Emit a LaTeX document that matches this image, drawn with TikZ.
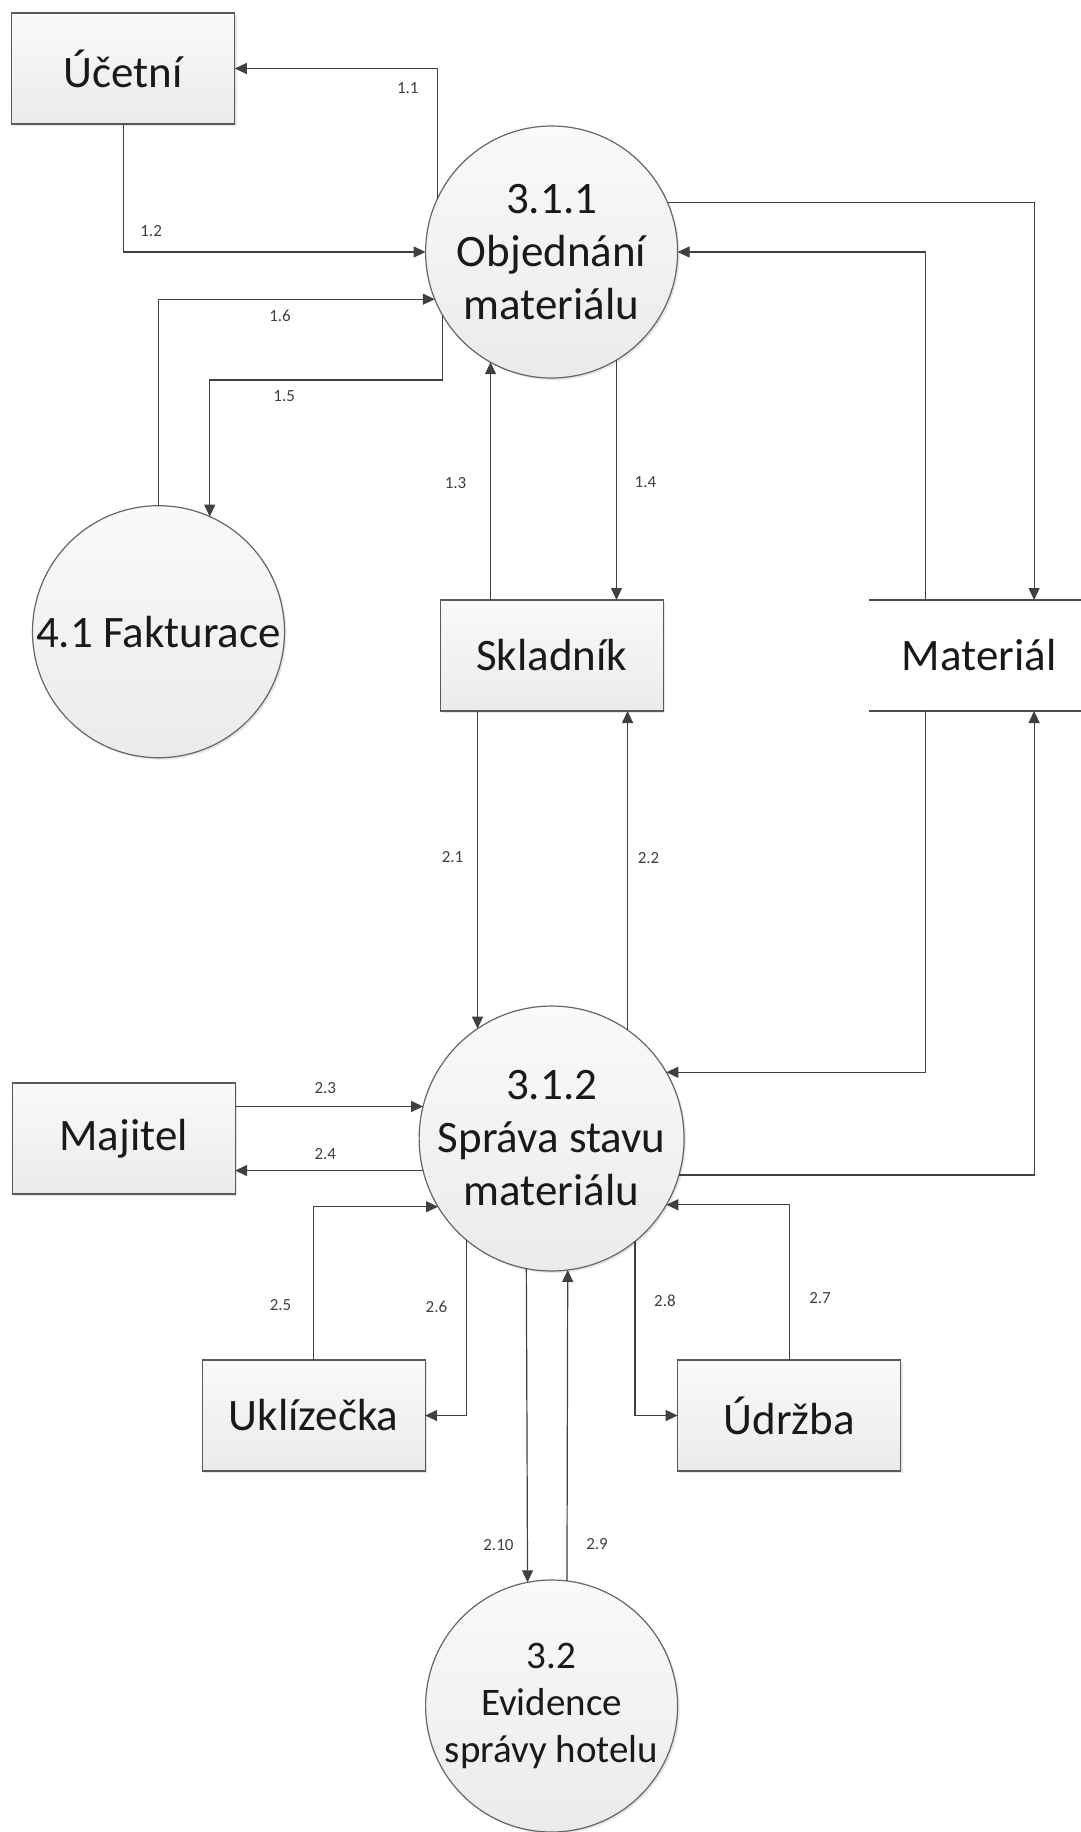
\documentclass[tikz,border=0pt]{standalone}
\usepackage{fontspec}
\setmainfont{Carlito}
\usetikzlibrary{positioning,arrows.meta,shadows}

\begin{document}
\begin{tikzpicture}[>={Triangle[length=6pt,width=5.5pt]},on grid,
  proc/.style={circle,draw=black!60,line width=0.6pt,top color=black!2,bottom color=black!8,
    drop shadow={shadow xshift=1pt,shadow yshift=-1pt,opacity=0.2},
    minimum size=126pt,inner sep=0pt,outer sep=0pt,align=center,text=black!90,
    font=\fontsize{22.5}{26.5}\selectfont},
  ext/.style={rectangle,draw=black!65,line width=0.6pt,top color=black!2,bottom color=black!8,
    drop shadow={shadow xshift=1pt,shadow yshift=-1pt,opacity=0.2},
    minimum width=111.5pt,minimum height=55.5pt,inner sep=0pt,outer sep=0pt,text=black!90,
    font=\fontsize{22.5}{26.5}\selectfont},
  store/.style={rectangle,minimum width=110pt,minimum height=55.5pt,inner sep=0pt,outer sep=0pt,
    text=black!90,font=\fontsize{22.5}{26.5}\selectfont},
  flow/.style={->,draw=black!75,line width=0.6pt},
  lbl/.style={font=\fontsize{8.5}{10}\selectfont,text=black!75,inner sep=0pt},
  hv/.style={to path={|- (\tikztotarget) \tikztonodes}},
  vh/.style={to path={-| (\tikztotarget) \tikztonodes}}]
  \useasboundingbox (0,0) rectangle (540.5pt,-916pt);

  \node[proc]  (objednani) at (275.8pt,-126pt)                    {3.1.1\\Objednání\\materiálu};
  \node[ext]   (ucetni)    [above left=91.75pt and 214.15pt of objednani] {Účetní};
  \node[proc]  (fakturace) [below left=189.85pt and 196.55pt of objednani] {4.1 Fakturace};
  \node[ext]   (skladnik)  [below=201.75pt of objednani]          {Skladník};
  \node[store] (material)  [right=213.75pt of skladnik]           {Materiál};
  \node[proc]  (sprava)    [below=241.5pt of skladnik]            {3.1.2\\Správa stavu\\materiálu};
  \node[ext]   (majitel)   [left=214pt of sprava]                 {Majitel};
  \node[ext]   (uklizecka) [below left=138.5pt and 119pt of sprava]    {Uklízečka};
  \node[ext]   (udrzba)    [below right=138.5pt and 118.75pt of sprava] {Údržba};
  \node[proc,font=\fontsize{19.5}{23.5}\selectfont]
               (evidence)  [below=283.75pt of sprava]             {3.2\\Evidence\\správy hotelu};

  % datovy sklad
  \draw[black!70,line width=0.6pt] (material.north west) -- (material.north east)
                                   (material.south west) -- (material.south east);

  % 3.1.1
  \path (objednani.155) edge [flow,hv] node[lbl,pos=0.573,yshift=-10pt] {1.1} (ucetni.east)
        (ucetni.south)  edge [flow,hv] node[lbl,pos=0.546,yshift=10.5pt] {1.2} (objednani.west)
        (fakturace.north) edge [flow,hv] node[lbl,pos=0.72,yshift=-8.5pt] {1.6} (objednani.202)
        (objednani.241 |- skladnik.north) edge [flow] node[lbl,pos=0.49,xshift=-17.5pt] {1.3} (objednani.241)
        (objednani.301) edge [flow] node[lbl,pos=0.51,xshift=14.5pt] {1.4} (objednani.301 |- skladnik.north)
        (objednani.23)  edge [flow,vh] ([xshift=27.5pt]material.north)
        ([xshift=-27pt]material.north) edge [flow,hv] (objednani.east);
  \draw[flow] (objednani.210) -- ++(0,-32.5pt) -| node[lbl,pos=0.34,yshift=-8pt] {1.5} (fakturace.66);

  % 3.1.2
  \path (sprava.124 |- skladnik.south) edge [flow] node[lbl,pos=0.46,xshift=-12.5pt] {2.1} (sprava.124)
        (sprava.55) edge [flow] node[lbl,pos=0.54,xshift=10.5pt] {2.2} (sprava.55 |- skladnik.south)
        ([xshift=-27pt]material.south) edge [flow,hv] (sprava.30)
        (sprava.344) edge [flow,vh] ([xshift=27.5pt]material.south)
        (majitel.east |- sprava.166) edge [flow] node[lbl,pos=0.48,yshift=9pt] {2.3} (sprava.166)
        (sprava.194) edge [flow] node[lbl,pos=0.52,yshift=8.5pt] {2.4} (sprava.194 -| majitel.east)
        (uklizecka.north) edge [flow,hv] node[lbl,pos=0.18,xshift=-16.5pt] {2.5} (sprava.211)
        (sprava.230) edge [flow,hv] node[lbl,pos=0.19,xshift=-15pt] {2.6} (uklizecka.east)
        (udrzba.north) edge [flow,hv] node[lbl,pos=0.2,xshift=15.5pt] {2.7} (sprava.330)
        (sprava.309) edge [flow,hv] node[lbl,pos=0.17,xshift=15pt] {2.8} (udrzba.west)
        (evidence.83) edge [flow] node[lbl,pos=0.12,xshift=15pt] {2.9} (sprava.277)
        (sprava.259) edge [flow] node[lbl,pos=0.88,xshift=-14.5pt] {2.10} (evidence.101);
\end{tikzpicture}
\end{document}
